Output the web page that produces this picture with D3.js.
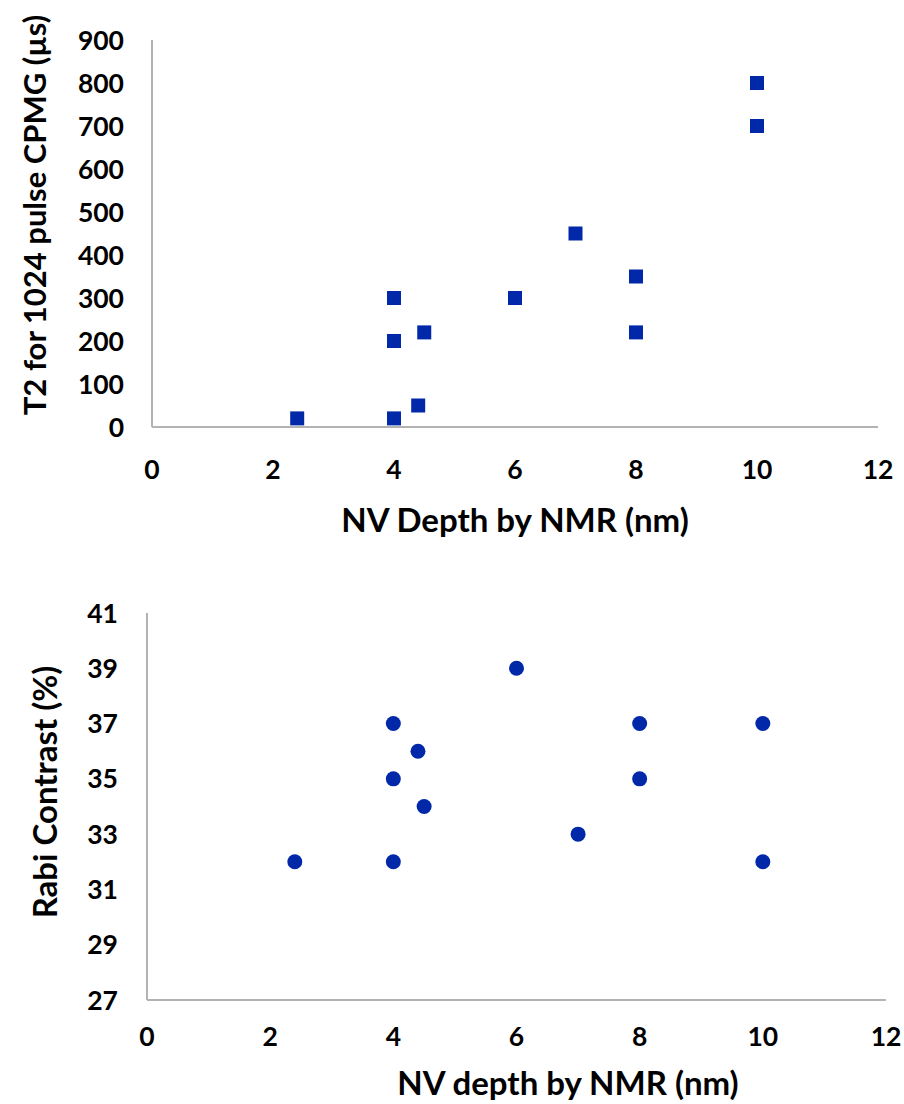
<!DOCTYPE html>
<html lang="en">
<head>
    <meta charset="UTF-8">
    <script src="https://d3js.org/d3.v7.min.js"></script>
    <title>NV depth scatter</title>
    <style>
        body { margin: 0; background: #fff; }
        text { font-family: Lato, "Open Sans", sans-serif; font-weight: bold; fill: #000; }
    </style>
</head>
<body>
<script>
    // top chart: T2 vs depth
    const t2Depth = [2.4, 4, 4, 4, 4.4, 4.5, 6, 7, 8, 8, 10, 10];
    const t2Values = [20, 20, 200, 300, 50, 220, 300, 450, 350, 220, 700, 800];
    const t2Ticks = [0, 100, 200, 300, 400, 500, 600, 700, 800, 900];

    // bottom chart: Rabi contrast vs depth
    const rabiDepth = [2.4, 4, 4, 4, 4.4, 4.5, 6, 7, 8, 8, 10, 10];
    const rabiValues = [32, 37, 35, 32, 36, 34, 39, 33, 37, 35, 37, 32];
    const rabiTicks = [27, 29, 31, 33, 35, 37, 39, 41];

    const depthTicks = [0, 2, 4, 6, 8, 10, 12];

    const width = 904, height = 1104;
    const blue = "#0028a8";
    const axisGrey = "#b3b3b3";

    const svg = d3.select("body").append("svg")
        .attr("width", width)
        .attr("height", height);

    function drawPanel(opt) {
        const x = d3.scaleLinear().domain([0, 12]).range([opt.left, opt.right]);
        const y = d3.scaleLinear().domain(opt.yDomain).range([opt.bottom, opt.top]);
        const g = svg.append("g");

        // axis lines only, no tick marks
        g.append("line")
            .attr("x1", x(0)).attr("x2", x(0))
            .attr("y1", y(opt.yDomain[1])).attr("y2", y(opt.yDomain[0]))
            .attr("stroke", axisGrey).attr("stroke-width", 2);
        g.append("line")
            .attr("x1", x(0)).attr("x2", x(12))
            .attr("y1", y(opt.yDomain[0])).attr("y2", y(opt.yDomain[0]))
            .attr("stroke", axisGrey).attr("stroke-width", 2);

        g.selectAll(".ytick").data(opt.yTicks).join("text")
            .attr("x", opt.yLabelX)
            .attr("y", d => y(d))
            .attr("dy", "0.36em")
            .attr("text-anchor", "end")
            .attr("font-size", 26.5)
            .text(d => d);

        g.selectAll(".xtick").data(depthTicks).join("text")
            .attr("x", d => x(d))
            .attr("y", opt.xLabelY)
            .attr("dy", "0.36em")
            .attr("text-anchor", "middle")
            .attr("font-size", 26.5)
            .text(d => d);

        g.append("text")
            .attr("x", opt.xTitle[0]).attr("y", opt.xTitle[1])
            .attr("dy", "0.36em")
            .attr("text-anchor", "middle")
            .attr("font-size", opt.xTitleSize)
            .text(opt.xTitleText);

        g.append("text")
            .attr("transform", `translate(${opt.yTitle[0]},${opt.yTitle[1]}) rotate(-90)`)
            .attr("dy", "0.36em")
            .attr("text-anchor", "middle")
            .attr("font-size", opt.yTitleSize)
            .text(opt.yTitleText);

        return { g, x, y };
    }

    const t2Panel = drawPanel({
        left: 152, right: 878, top: 40, bottom: 427,
        yDomain: [0, 900], yTicks: t2Ticks,
        yLabelX: 124, xLabelY: 469,
        xTitle: [515, 520], xTitleText: "NV Depth by NMR (nm)", xTitleSize: 33,
        yTitle: [35, 215], yTitleText: "T2 for 1024 pulse CPMG (µs)", yTitleSize: 31
    });
    t2Panel.g.selectAll(".pt").data(t2Depth).join("rect")
        .attr("x", d => t2Panel.x(d) - 7)
        .attr("y", (d, i) => t2Panel.y(t2Values[i]) - 7)
        .attr("width", 14).attr("height", 14)
        .attr("fill", blue);

    const rabiPanel = drawPanel({
        left: 147, right: 886, top: 613, bottom: 1000,
        yDomain: [27, 41], yTicks: rabiTicks,
        yLabelX: 118, xLabelY: 1036,
        xTitle: [568, 1083], xTitleText: "NV depth by NMR (nm)", xTitleSize: 33,
        yTitle: [45, 792], yTitleText: "Rabi Contrast (%)", yTitleSize: 33
    });
    rabiPanel.g.selectAll(".pt").data(rabiDepth).join("circle")
        .attr("cx", d => rabiPanel.x(d))
        .attr("cy", (d, i) => rabiPanel.y(rabiValues[i]))
        .attr("r", 7.5)
        .attr("fill", blue);
</script>
</body>
</html>
